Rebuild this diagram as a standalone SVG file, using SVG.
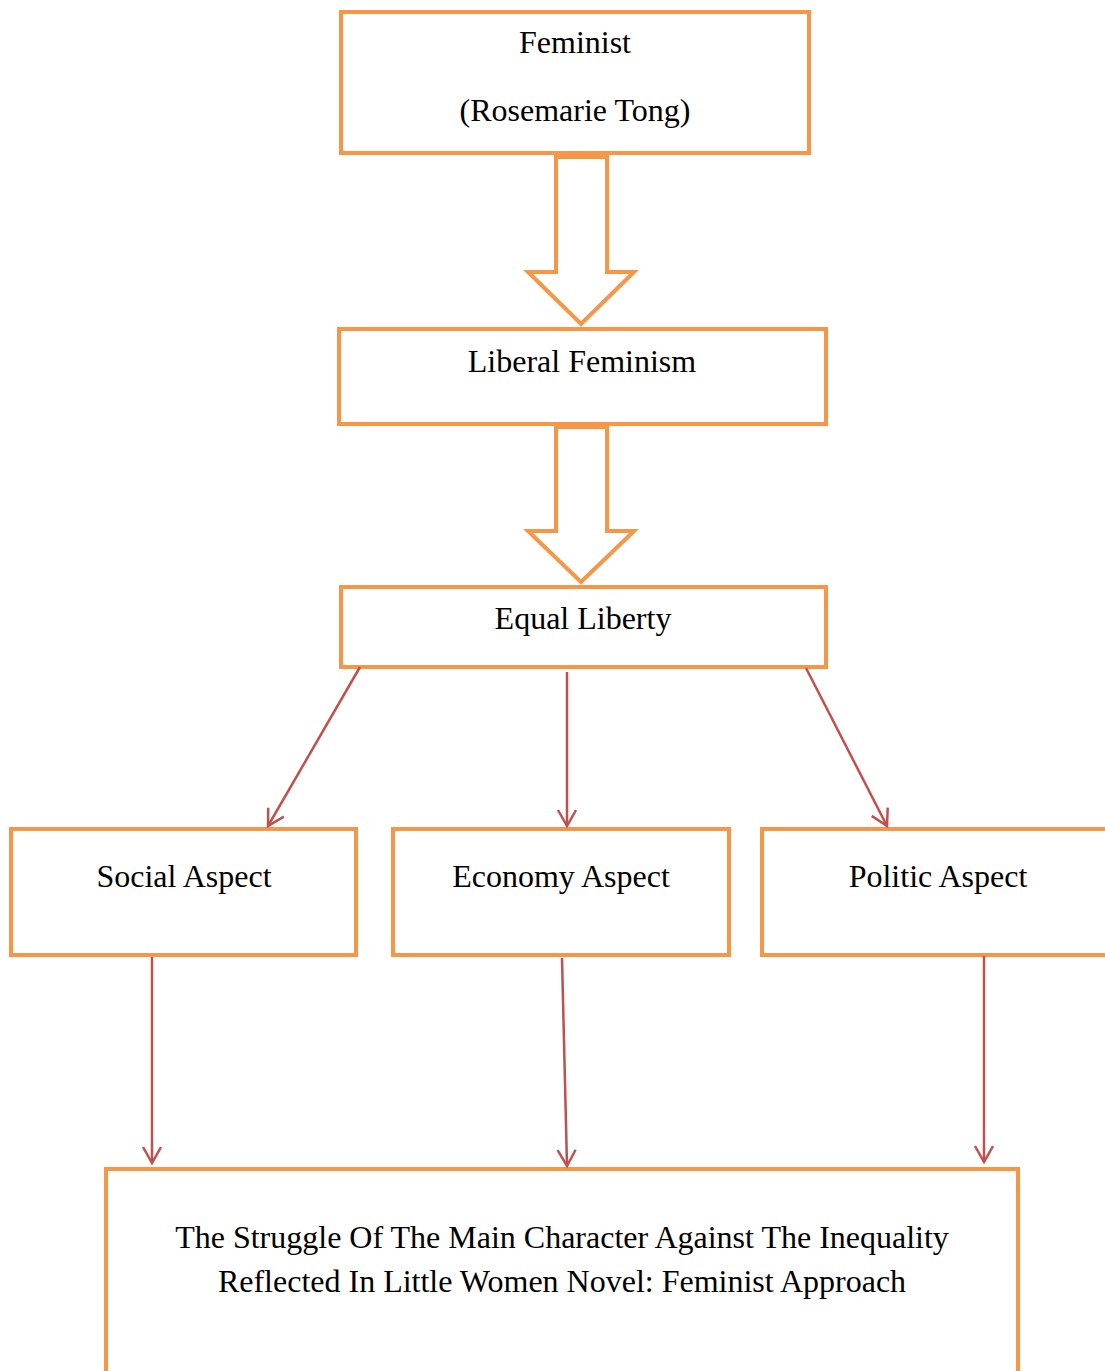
<svg xmlns="http://www.w3.org/2000/svg" width="1105" height="1371" viewBox="0 0 1105 1371">
<style>
.box{fill:#fff;stroke:#F79646;stroke-width:4}
.blk{fill:#fff;stroke:#F79646;stroke-width:4;stroke-linejoin:miter}
.t{font-family:"Liberation Serif","Times New Roman",serif;font-size:32px;fill:#000;text-anchor:middle}
.ln{stroke:#C0504D;stroke-width:2.5;fill:none;marker-end:url(#ah)}
</style>
<defs>
<marker id="ah" viewBox="0 0 20 24" refX="17" refY="10" markerWidth="20" markerHeight="24" markerUnits="userSpaceOnUse" orient="auto">
<path d="M1,1 L17,10 L1,19" fill="none" stroke="#C0504D" stroke-width="2.5"/>
</marker>
</defs>
<rect width="1105" height="1371" fill="#fff"/>
<g id="feminist"><rect class="box" x="341" y="12" width="468" height="141"/><text class="t" x="575" y="53">Feminist</text><text class="t" x="575" y="121">(Rosemarie Tong)</text></g>
<g id="liberal"><rect class="box" x="339" y="329" width="487" height="95"/><text class="t" x="582" y="372">Liberal Feminism</text></g>
<g id="equal"><rect class="box" x="341" y="587" width="485" height="80"/><text class="t" x="583" y="629">Equal Liberty</text></g>
<g id="social"><rect class="box" x="11" y="829" width="345" height="126"/><text class="t" x="184" y="887">Social Aspect</text></g>
<g id="economy"><rect class="box" x="393" y="829" width="336" height="126"/><text class="t" x="561" y="887">Economy Aspect</text></g>
<g id="politic"><rect class="box" x="762" y="829" width="360" height="126"/><text class="t" x="938" y="887">Politic Aspect</text></g>
<g id="result"><rect class="box" x="106" y="1169" width="912" height="230"/><text class="t" x="562" y="1248">The Struggle Of The Main Character Against The Inequality</text><text class="t" x="562" y="1292">Reflected In Little Women Novel: Feminist Approach</text></g>
<g id="connectors">
<path class="blk" d="M556,157 H607 V272 H634 L581,324 L528,272 H556 Z"/>
<path class="blk" d="M556,427 H607 V531 H634 L581,582 L528,531 H556 Z"/>
<line class="ln" x1="360" y1="667" x2="268" y2="826"/>
<line class="ln" x1="567" y1="672" x2="567" y2="826"/>
<line class="ln" x1="806" y1="668" x2="887" y2="826"/>
<line class="ln" x1="152" y1="957" x2="152" y2="1163"/>
<line class="ln" x1="562" y1="958" x2="567" y2="1166"/>
<line class="ln" x1="984" y1="956" x2="984" y2="1162"/>
</g>
</svg>
